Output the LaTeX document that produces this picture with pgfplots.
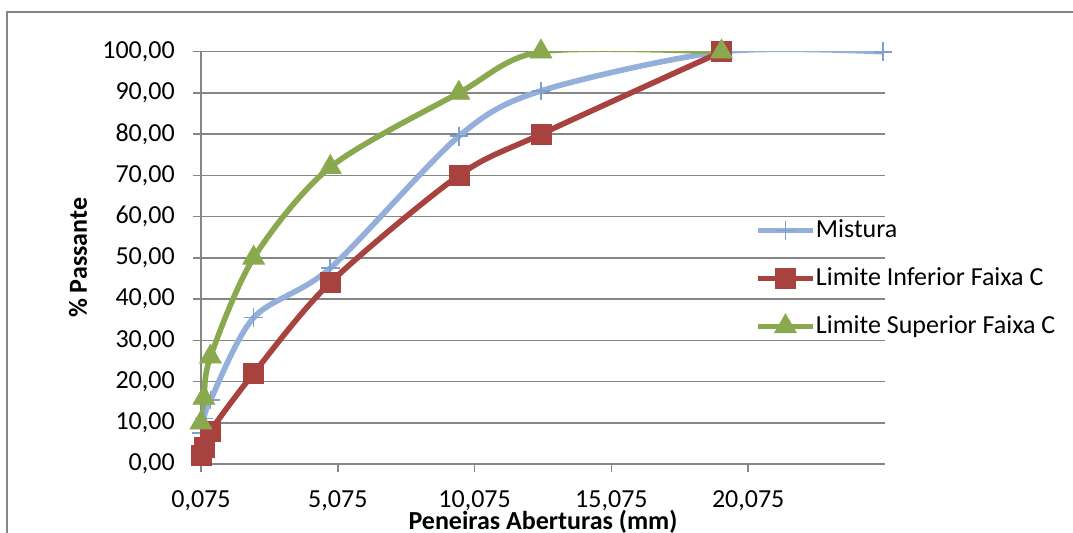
\documentclass[border=0pt]{standalone}
\usepackage{pgfplots}
\pgfplotsset{compat=1.18}
\usepackage{fontspec}
\setmainfont{Carlito}
\definecolor{gridc}{HTML}{868686}
\definecolor{mistc}{HTML}{94B0DA}
\definecolor{mistm}{HTML}{7F9FD3}
\definecolor{infc}{HTML}{A8423F}
\definecolor{supc}{HTML}{8AA94E}
\newcommand{\F}{\fontsize{19.5pt}{23.4pt}\selectfont}
\begin{document}
\begin{tikzpicture}[font=\F]
\useasboundingbox (0,0) rectangle (804.75pt,399pt);
\clip (0,0) rectangle (804.75pt,399pt);
\draw[gridc, line width=1.1pt] (5.25pt,-5pt) -- (5.25pt,390pt) -- (810pt,390pt);
\begin{axis}[
  at={(150.75pt,51pt)}, anchor=south west,
  scale only axis, width=513pt, height=309.2pt,
  xmin=0.075, xmax=25.075, ymin=0, ymax=100,
  xtick={0.075,5.075,10.075,15.075,20.075},
  xticklabels={{0,075},{5,075},{10,075},{15,075},{20,075}},
  ytick={0,10,20,30,40,50,60,70,80,90,100},
  yticklabels={{0,00},{10,00},{20,00},{30,00},{40,00},{50,00},{60,00},{70,00},{80,00},{90,00},{100,00}},
  axis x line=bottom, axis y line=left,
  axis line style={-, draw=gridc, line width=1.1pt},
  ymajorgrids, major grid style={draw=gridc, line width=1.1pt},
  tick style={draw=gridc, line width=1.1pt}, tick align=outside, major tick length=6pt,
  yticklabel style={font=\F, anchor=east, inner sep=0pt, xshift=-13.5pt},
  xticklabel style={font=\F, anchor=base, inner sep=0pt, text depth=0pt, yshift=-26.25pt},
  xlabel={\bfseries Peneiras Aberturas (mm)},
  ylabel={\bfseries \% Passante},
  every axis x label/.style={at={(axis description cs:0.5,-0.158)}, anchor=base, inner sep=0pt, font=\F},
  every axis y label/.style={at={(axis description cs:-0.1667,0.5)}, anchor=base, rotate=90, font=\F},
  clip=true,
  legend cell align=left,
  legend style={draw=none, fill=none, at={(0.8096,0.45)}, anchor=west, inner sep=0pt,
    row sep=15pt, font=\F,
    nodes={text height=14pt, text depth=4pt, inner xsep=0pt, inner ysep=1.5pt}},
  legend image code/.code={\draw[#1, mark repeat=2, mark phase=2] plot coordinates {(0pt,0pt) (20.75pt,0pt) (41.5pt,0pt)};},
]
\addplot[mistc, line width=4.2pt, smooth, mark=+, mark size=7pt,
  mark options={draw=mistm, line width=1.2pt}]
  coordinates {(0.075,7.5) (0.18,11) (0.42,15.5) (2.0,35.5) (4.8,47.5) (9.5,79.5) (12.5,90.5) (19.1,100) (25.0,100)};
\addlegendentry{Mistura}
\addplot[infc, line width=4.2pt, smooth, mark=square*, mark size=7.5pt,
  mark options={fill=infc, draw=infc, line width=0.5pt}]
  coordinates {(0.075,2) (0.18,4) (0.42,8) (2.0,22) (4.8,44) (9.5,70) (12.5,80) (19.1,100)};
\addlegendentry{Limite Inferior Faixa C}
\addplot[supc, line width=4.2pt, smooth, mark=triangle*, mark size=9.5pt,
  mark options={fill=supc, draw=supc, line width=0.5pt}]
  coordinates {(0.075,10) (0.18,16) (0.42,26) (2.0,50) (4.8,72) (9.5,90) (12.5,100) (19.1,100)};
\addlegendentry{Limite Superior Faixa C}
\end{axis}
\end{tikzpicture}
\end{document}
